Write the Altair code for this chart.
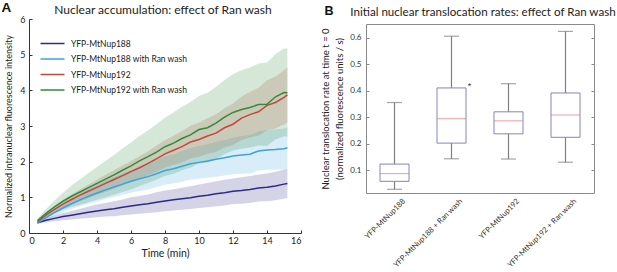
import altair as alt
import pandas as pd

FONT = "Lato"

# ---------------- Panel A data ----------------
time_min = [0.5, 1.0, 1.5, 2.0, 2.5, 3.0, 3.5, 4.0, 4.5, 5.0, 5.5, 6.0, 6.5, 7.0, 7.5,
            8.0, 8.5, 9.0, 9.5, 10.0, 10.5, 11.0, 11.5, 12.0, 12.5, 13.0, 13.5, 14.0,
            14.5, 15.0, 15.2]

series_names = ["YFP-MtNup188", "YFP-MtNup188 with Ran wash",
                "YFP-MtNup192", "YFP-MtNup192 with Ran wash"]
series_colors = ["#2b2a88", "#3ba3dd", "#c4473c", "#2e8d3a"]

nup188_mean = [0.29, 0.36, 0.41, 0.46, 0.50, 0.54, 0.58, 0.62, 0.65, 0.68, 0.72, 0.76,
               0.79, 0.82, 0.86, 0.90, 0.93, 0.96, 0.99, 1.03, 1.06, 1.10, 1.13, 1.17,
               1.19, 1.22, 1.26, 1.28, 1.32, 1.37, 1.39]
nup188_sd = [0.03, 0.06, 0.08, 0.10, 0.12, 0.14, 0.16, 0.18, 0.19, 0.21, 0.22, 0.24,
             0.25, 0.26, 0.28, 0.29, 0.30, 0.31, 0.32, 0.33, 0.34, 0.35, 0.36, 0.36,
             0.37, 0.38, 0.38, 0.39, 0.40, 0.41, 0.41]

nup188_ran_mean = [0.28, 0.43, 0.57, 0.70, 0.82, 0.93, 1.03, 1.12, 1.21, 1.29, 1.37, 1.45,
                   1.52, 1.58, 1.66, 1.75, 1.80, 1.87, 1.94, 1.98, 2.02, 2.07, 2.11, 2.16,
                   2.19, 2.21, 2.30, 2.33, 2.34, 2.36, 2.39]
nup188_ran_sd = [0.03, 0.06, 0.09, 0.12, 0.15, 0.18, 0.21, 0.24, 0.26, 0.28, 0.30, 0.32,
                 0.34, 0.36, 0.38, 0.40, 0.41, 0.43, 0.44, 0.46, 0.47, 0.49, 0.50, 0.51,
                 0.53, 0.54, 0.55, 0.56, 0.57, 0.57, 0.58]

nup192_mean = [0.32, 0.50, 0.66, 0.81, 0.94, 1.06, 1.17, 1.28, 1.39, 1.50, 1.61, 1.72,
               1.83, 1.95, 2.08, 2.22, 2.32, 2.42, 2.55, 2.62, 2.72, 2.80, 2.95, 3.05,
               3.22, 3.32, 3.40, 3.58, 3.66, 3.80, 3.87]
nup192_sd = [0.03, 0.06, 0.09, 0.12, 0.14, 0.17, 0.19, 0.21, 0.24, 0.26, 0.28, 0.30,
             0.32, 0.34, 0.37, 0.39, 0.41, 0.44, 0.46, 0.48, 0.50, 0.53, 0.55, 0.58,
             0.61, 0.64, 0.67, 0.70, 0.73, 0.76, 0.77]

nup192_ran_mean = [0.35, 0.55, 0.73, 0.89, 1.03, 1.15, 1.27, 1.39, 1.51, 1.63, 1.76, 1.88,
                   2.02, 2.14, 2.27, 2.42, 2.52, 2.65, 2.75, 2.90, 2.95, 3.08, 3.25, 3.38,
                   3.46, 3.52, 3.60, 3.61, 3.82, 3.94, 3.93]
nup192_ran_sd = [0.05, 0.12, 0.18, 0.24, 0.30, 0.36, 0.41, 0.46, 0.51, 0.56, 0.61, 0.66,
                 0.70, 0.74, 0.78, 0.82, 0.86, 0.89, 0.92, 0.95, 0.98, 1.01, 1.04, 1.07,
                 1.10, 1.12, 1.15, 1.17, 1.20, 1.23, 1.24]

x_ticks_a = [0, 2, 4, 6, 8, 10, 12, 14, 16]
y_ticks_a = [0, 1, 2, 3, 4, 5, 6]
title_a = "Nuclear accumulation: effect of Ran wash"

# ---------------- Panel B data ----------------
box_labels = ["YFP-MtNup188", "YFP-MtNup188 + Ran wash",
              "YFP-MtNup192", "YFP-MtNup192 + Ran wash"]
whisker_low = [0.028, 0.143, 0.142, 0.130]
quart1 = [0.058, 0.202, 0.237, 0.224]
medians = [0.087, 0.294, 0.286, 0.308]
quart3 = [0.123, 0.410, 0.320, 0.391]
whisker_high = [0.355, 0.605, 0.426, 0.623]
outlier_group = ["YFP-MtNup188 + Ran wash"]
outlier_value = [0.426]
y_ticks_b = [0.1, 0.2, 0.3, 0.4, 0.5, 0.6]
title_b = "Initial nuclear translocation rates: effect of Ran wash"

# ---------------- build tables ----------------
rows = []
for name, mean, sd in zip(series_names,
                          [nup188_mean, nup188_ran_mean, nup192_mean, nup192_ran_mean],
                          [nup188_sd, nup188_ran_sd, nup192_sd, nup192_ran_sd]):
    for t, m, s in zip(time_min, mean, sd):
        rows.append({"series": name, "t": t, "mean": m, "lo": m - s, "hi": m + s})
df_a = pd.DataFrame(rows)

df_b = pd.DataFrame({"group": box_labels, "wlo": whisker_low, "q1": quart1,
                     "med": medians, "q3": quart3, "whi": whisker_high})
df_out = pd.DataFrame({"group": outlier_group, "value": outlier_value})


def label_layer(text, **kw):
    return alt.Chart(pd.DataFrame({"txt": [text]})).mark_text(**kw).encode(text="txt:N")


# ---------------- Panel A chart ----------------
WA, HA = 272, 214
xs_a = alt.Scale(domain=[0, 16], nice=False, zero=False)
ys_a = alt.Scale(domain=[0, 6], nice=False)
color_scale = alt.Scale(domain=series_names, range=series_colors)
legend_a = alt.Legend(title=None, orient="none", legendX=16.5, legendY=17.5,
                      symbolType="M-2,0H2", symbolSize=144, symbolStrokeWidth=1.5,
                      symbolOpacity=1, labelFontSize=8.5, labelFont=FONT,
                      labelColor="#222", rowPadding=3.5, labelOffset=11.5)

base_a = alt.Chart(df_a)

bands = base_a.mark_area(opacity=0.2).encode(
    x=alt.X("t:Q", scale=xs_a,
            axis=alt.Axis(orient="top", offset=-HA, labels=False, domain=False,
                          ticks=True, tickSize=3, tickColor="#333", grid=False,
                          values=x_ticks_a, title=None)),
    y=alt.Y("lo:Q", scale=ys_a,
            axis=alt.Axis(orient="right", offset=-WA, labels=False, domain=False,
                          ticks=True, tickSize=3, tickColor="#333", grid=False,
                          values=y_ticks_a, title=None)),
    y2="hi:Q",
    color=alt.Color("series:N", scale=color_scale, legend=legend_a),
)

lines = base_a.mark_line(strokeWidth=1.5).encode(
    x=alt.X("t:Q", scale=xs_a,
            axis=alt.Axis(values=x_ticks_a, ticks=False, grid=False, domainColor="#333",
                          labelFontSize=9, labelColor="#222", labelFont=FONT,
                          labelPadding=3, title="Time (min)", titleFontSize=10.5,
                          titleFont=FONT, titleFontWeight="normal", titlePadding=3,
                          titleColor="#222")),
    y=alt.Y("mean:Q", scale=ys_a,
            axis=alt.Axis(values=y_ticks_a, ticks=False, grid=False, domainColor="#333",
                          labelFontSize=9, labelColor="#222", labelFont=FONT,
                          labelPadding=4,
                          title="Normalized intranuclear fluorescence intensity",
                          titleFontSize=9, titleFont=FONT, titleFontWeight="normal",
                          titlePadding=6, titleColor="#222")),
    color=alt.Color("series:N", scale=color_scale, legend=legend_a),
)

letter_a = label_layer("A", fontSize=13.5, fontWeight="bold", font="Liberation Sans",
                       align="left", baseline="alphabetic", color="#111").encode(
    x=alt.value(-27.5), y=alt.value(-7.4))
head_a = label_layer(title_a, fontSize=12, font=FONT, align="center",
                     baseline="alphabetic", color="#222").encode(
    x=alt.value(134), y=alt.value(-5))

panel_a = alt.layer(bands, lines, letter_a, head_a).resolve_axis(
    x="independent", y="independent"
).properties(width=WA, height=HA)

# ---------------- Panel B chart ----------------
WB, TOPB = 228, 5
HB = 169 + TOPB
ys_b = alt.Scale(domain=[0.014, 0.651], nice=False, zero=False, range=[HB, TOPB])
xs_b = alt.Scale(domain=box_labels, paddingInner=0, paddingOuter=0)
FRAME = "#8a8a8a"
base_b = alt.Chart(df_b)

whiskers = base_b.mark_rule(color="#7f7f7f", strokeWidth=1.2).encode(
    x=alt.X("group:N", scale=xs_b, sort=box_labels,
            axis=alt.Axis(title=None, ticks=False, domain=True, domainColor=FRAME,
                          labelAngle=-45, labelAlign="right", labelBaseline="top",
                          labelFontSize=7.6, labelFont=FONT, labelColor="#333",
                          labelPadding=4, labelOffset=7)),
    y=alt.Y("wlo:Q", scale=ys_b,
            axis=alt.Axis(values=y_ticks_b, format=".1f", ticks=False, domain=True,
                          domainColor=FRAME, grid=False, labelFontSize=8,
                          labelFont=FONT, labelColor="#333", labelPadding=5,
                          title=["Nuclear translocation rate at time t = 0",
                                 "(normalized fluorescence units / s)"],
                          titleFontSize=9.5, titleFont=FONT, titleFontWeight="normal",
                          titleColor="#222", titlePadding=5, titleLineHeight=14)),
    y2="whi:Q",
)

boxes = base_b.mark_bar(size=29, fill="white", stroke="#8383c4", strokeWidth=1).encode(
    x=alt.X("group:N", scale=xs_b, sort=box_labels,
            axis=alt.Axis(orient="top", offset=-TOPB, title=None, labels=False,
                          ticks=False, domain=True, domainColor=FRAME)),
    y=alt.Y("q1:Q", scale=ys_b,
            axis=alt.Axis(orient="right", offset=-WB, values=y_ticks_b, labels=False,
                          domain=False, ticks=True, tickSize=3, tickColor=FRAME,
                          grid=False, title=None)),
    y2="q3:Q",
)

med = base_b.mark_tick(size=29, thickness=1, color="#e07575").encode(
    x=alt.X("group:N", scale=xs_b, sort=box_labels, axis=None),
    y=alt.Y("med:Q", scale=ys_b,
            axis=alt.Axis(orient="left", offset=-WB, values=y_ticks_b, labels=False,
                          domain=True, domainColor=FRAME, ticks=True, tickSize=3,
                          tickColor=FRAME, grid=False, title=None)),
)

cap_lo = base_b.mark_tick(size=15, thickness=1.2, color="#7f7f7f").encode(
    x=alt.X("group:N", scale=xs_b, sort=box_labels, axis=None),
    y=alt.Y("wlo:Q", scale=ys_b, axis=None),
)
cap_hi = base_b.mark_tick(size=15, thickness=1.2, color="#7f7f7f").encode(
    x=alt.X("group:N", scale=xs_b, sort=box_labels, axis=None),
    y=alt.Y("whi:Q", scale=ys_b, axis=None),
)

outl = alt.Chart(df_out).mark_text(text="*", fontSize=9, dx=18, dy=2.5,
                                   baseline="middle", color="#333",
                                   font="Liberation Sans").encode(
    x=alt.X("group:N", scale=xs_b, sort=box_labels, axis=None),
    y=alt.Y("value:Q", scale=ys_b, axis=None),
)

letter_b = label_layer("B", fontSize=12.5, fontWeight="bold", font="Liberation Sans",
                       align="left", baseline="alphabetic", color="#111").encode(
    x=alt.value(-41.5), y=alt.value(-4))
head_b = label_layer(title_b, fontSize=11.6, font=FONT, align="center",
                     baseline="alphabetic", color="#222").encode(
    x=alt.value(117), y=alt.value(-3.5))

panel_b = alt.layer(whiskers, boxes, med, cap_lo, cap_hi, outl, letter_b, head_b
                    ).resolve_axis(x="independent", y="independent"
                                   ).properties(width=WB, height=HB)

chart = alt.hconcat(panel_a, panel_b, spacing=18).properties(
    padding={"left": 1, "top": 0, "right": 0, "bottom": 0}
).configure_view(strokeWidth=0)

chart.save("out.html", embed_options={"renderer": "svg", "actions": False})
